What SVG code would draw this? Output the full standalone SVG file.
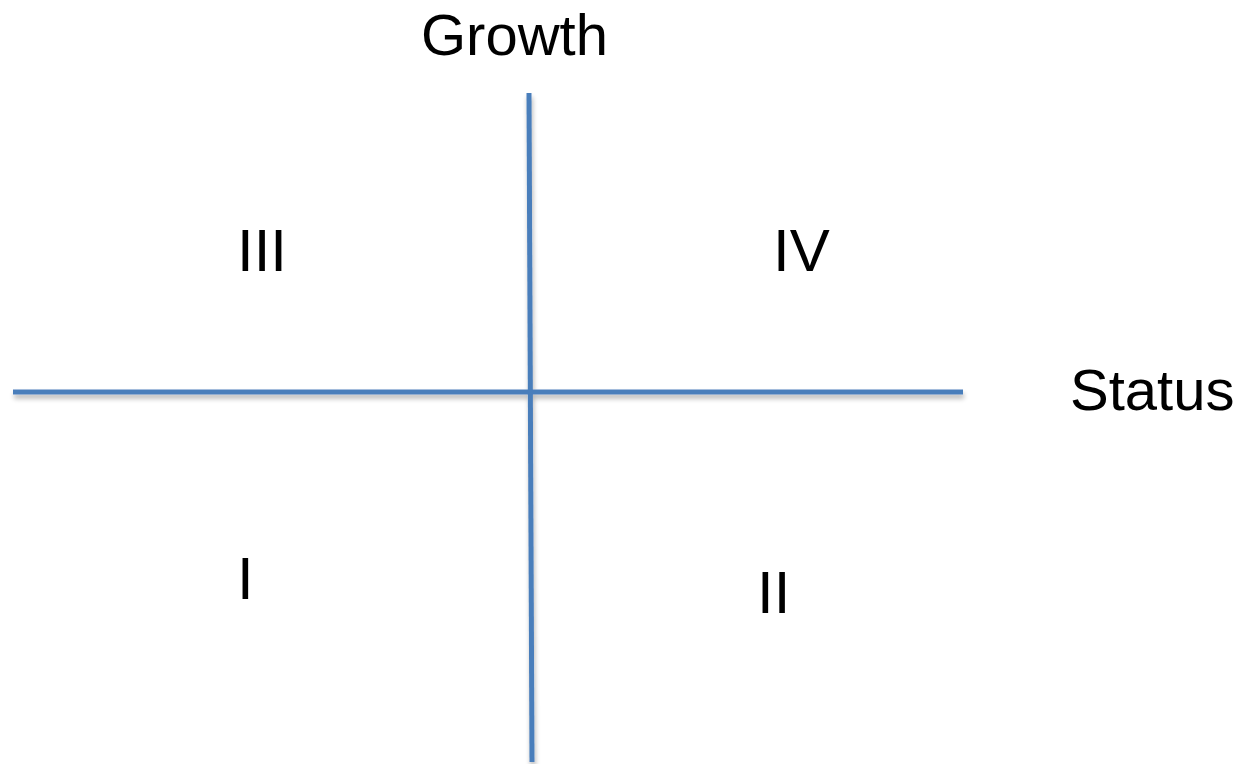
<svg xmlns="http://www.w3.org/2000/svg" width="1237" height="764" viewBox="0 0 1237 764">
<defs>
<style>
.axis{stroke:#4a7ebb;stroke-width:5;fill:none}
.lbl{font-family:"Liberation Sans",Arial,sans-serif;fill:#000}
.ax{font-size:58px}
.q{font-size:60px}
</style>
<filter id="sh" x="-10%" y="-10%" width="120%" height="120%">
<feGaussianBlur in="SourceAlpha" stdDeviation="2.5"/>
<feOffset dx="1" dy="4" result="b"/>
<feComponentTransfer><feFuncA type="linear" slope="0.3"/></feComponentTransfer>
<feMerge><feMergeNode/><feMergeNode in="SourceGraphic"/></feMerge>
</filter>
</defs>
<rect width="1237" height="764" fill="#fff"/>
<g id="connectors" filter="url(#sh)">
<line class="axis" x1="13" y1="392" x2="963" y2="392"/>
<line class="axis" x1="529" y1="93" x2="532" y2="762"/>
</g>
<g id="growth"><text class="lbl ax" x="421" y="55">Growth</text></g>
<g id="status"><text class="lbl ax" x="1070" y="410">Status</text></g>
<g id="q3"><text class="lbl q" x="237" y="271">III</text></g>
<g id="q4"><text class="lbl q" x="773" y="271">IV</text></g>
<g id="q1"><text class="lbl q" x="237" y="599">I</text></g>
<g id="q2"><text class="lbl q" x="757" y="613">II</text></g>
</svg>
